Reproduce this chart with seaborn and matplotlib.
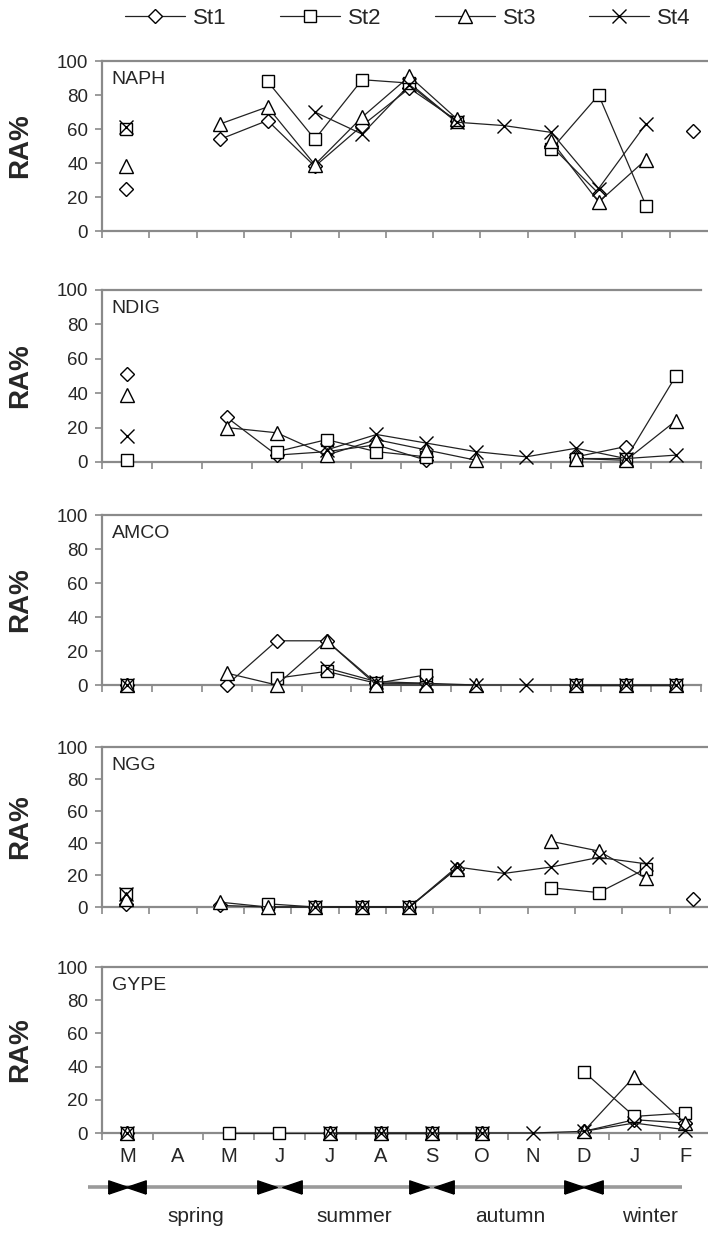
import numpy as np
import pandas as pd
import matplotlib
matplotlib.use('Agg')
import matplotlib.pyplot as plt
import seaborn as sns
from matplotlib.lines import Line2D
from matplotlib.path import Path
from matplotlib.transforms import blended_transform_factory

nan = np.nan

# -------------------------------
# DATA (RA% per station, nan = no sample)
# -------------------------------
months = ['M', 'A', 'M', 'J', 'J', 'A', 'S', 'O', 'N', 'D', 'J', 'F']
stations = ['St1', 'St2', 'St3', 'St4']
seasons = ['spring', 'summer', 'autumn', 'winter']
season_start = [0, 3, 6, 9]          # month index where each season begins
season_label_x = [1.35, 4.47, 7.55, 10.3]

naph_st1 = [25, nan, 54, 65, 38, 62, 84, 65, nan, 50, 22, nan, 59]
naph_st2 = [60, nan, nan, 88, 54, 89, 87, 64, nan, 48, 80, 15, nan]
naph_st3 = [38, nan, 63, 73, 39, 67, 91, 66, nan, 53, 17, 42, nan]
naph_st4 = [61, nan, nan, nan, 70, 57, 86, 64, 62, 58, 25, 63, nan]

ndig_st1 = [51, nan, 26, 4, 6, 10, 1, nan, nan, 3, 9, nan]
ndig_st2 = [1, nan, nan, 6, 13, 6, 3, nan, nan, 2, 2, 50]
ndig_st3 = [39, nan, 20, 17, 4, 13, 7, 1, nan, 2, 1, 24]
ndig_st4 = [15, nan, nan, nan, 7, 16, 11, 6, 3, 8, 2, 4]

amco_st1 = [0, nan, 0, 26, 26, 1, 1, nan, nan, 0, 0, 0]
amco_st2 = [0, nan, nan, 4, 8, 1, 6, nan, nan, 0, 0, 0]
amco_st3 = [0, nan, 7, 0, 26, 0, 0, 0, nan, 0, 0, 0]
amco_st4 = [0, nan, nan, nan, 10, 2, 1, 0, 0, 0, 0, 0]

ngg_st1 = [2, nan, 1, 0, 0, 0, 0, 24, nan, nan, nan, nan, 5]
ngg_st2 = [8, nan, nan, 2, 0, 0, 0, nan, nan, 12, 9, 24, nan]
ngg_st3 = [5, nan, 3, 0, 0, 0, 0, 24, nan, 41, 35, 18, nan]
ngg_st4 = [8, nan, nan, nan, 0, 0, 0, 25, 21, 25, 31, 27, nan]

gype_st1 = [0, nan, nan, nan, 0, 0, 0, 0, nan, 1, 8, 6]
gype_st2 = [0, nan, 0, 0, 0, 0, 0, 0, nan, 37, 10, 12]
gype_st3 = [0, nan, nan, nan, 0, 0, 0, 0, nan, 1, 34, 6]
gype_st4 = [0, nan, nan, nan, 0, 0, 0, 0, 0, 1, 6, 2]

panels = [
    ('NAPH', [naph_st1, naph_st2, naph_st3, naph_st4]),
    ('NDIG', [ndig_st1, ndig_st2, ndig_st3, ndig_st4]),
    ('AMCO', [amco_st1, amco_st2, amco_st3, amco_st4]),
    ('NGG', [ngg_st1, ngg_st2, ngg_st3, ngg_st4]),
    ('GYPE', [gype_st1, gype_st2, gype_st3, gype_st4]),
]

# -------------------------------
# STYLE / LAYOUT
# -------------------------------
sns.set_style('ticks')
plt.rcParams['font.family'] = ['Liberation Sans', 'DejaVu Sans']

W, H = 708, 1233
LEFT = 102
# top (y=100), bottom (y=0), width of one month, all in pixels
frames = [(61, 231, 47.3), (290, 462, 49.9), (515, 685, 49.9),
          (747, 907, 47.3), (967, 1133, 50.7)]

AXC = '#8a8a8a'
LINEC = '#222222'
mstyle = {
    'St1': dict(marker='D', ms=6.9),
    'St2': dict(marker='s', ms=8.8),
    'St3': dict(marker='^', ms=9.6),
    'St4': dict(marker='x', ms=9.4),
}

fig = plt.figure(figsize=(W / 100, H / 100), dpi=100)

for i, ((name, series), (top, bot, step)) in enumerate(zip(panels, frames)):
    n = len(series[0])
    ax = fig.add_axes([LEFT / W, 1 - bot / H, n * step / W, (bot - top) / H])

    for st, vals in zip(stations, series):
        df = pd.DataFrame({'pos': np.arange(n), 'ra': vals}).dropna()
        df['seg'] = (df['pos'].diff() != 1).cumsum()
        sns.lineplot(data=df, x='pos', y='ra', units='seg', estimator=None,
                     ax=ax, color=LINEC, lw=0.9, mfc='white', mec='black',
                     mew=1.0, clip_on=False, legend=False, zorder=3,
                     **mstyle[st])

    ax.set_xlim(-0.5, n - 0.5)
    ax.set_ylim(0, 100)
    ax.set_yticks(range(0, 101, 20))
    ax.set_xticks(np.arange(-0.5, n, 1.0))
    ax.set_xticklabels([])
    ax.tick_params(axis='y', direction='out', length=5, width=1.2, color=AXC,
                   labelsize=13.5, pad=5)
    ax.tick_params(axis='x', which='major', direction='out', length=5,
                   width=1.2, color=AXC)
    for side in ['left', 'top', 'bottom']:
        ax.spines[side].set_color(AXC)
        ax.spines[side].set_linewidth(1.6)
    ax.spines['right'].set_visible(False)
    ax.set_xlabel('')
    ax.set_ylabel('RA%', fontsize=20, fontweight='bold')
    ax.yaxis.set_label_coords((33 - LEFT) / (n * step), 0.5)
    ax.annotate(name, xy=(0, 1), xycoords='axes fraction', xytext=(7, -13),
                textcoords='offset points', ha='left', va='center', fontsize=14)

    if name == 'GYPE':
        ax.set_xticks(np.arange(n), minor=True)
        ax.set_xticklabels(months, minor=True, fontsize=14.5)
        ax.tick_params(axis='x', which='minor', length=0, pad=10)

        # season bar below the month labels
        tr = blended_transform_factory(ax.transData, ax.transAxes)
        ax.plot([-0.78, 10.94], [-0.325, -0.325], transform=tr, color='#9a9a9a',
                lw=2.6, clip_on=False, solid_capstyle='butt')
        right_tri = Path([(-1, -0.68), (1, 0), (-1, 0.68), (-1, -0.68)])
        left_tri = Path([(1, -0.68), (-1, 0), (1, 0.68), (1, -0.68)])
        gaps = [0.18, 0.25, 0.24, 0.19]
        for s, g in zip(season_start, gaps):
            ax.plot([s - g], [-0.325], transform=tr, marker=right_tri, ms=14,
                    color='black', clip_on=False, ls='none')
            ax.plot([s + g], [-0.325], transform=tr, marker=left_tri, ms=14,
                    color='black', clip_on=False, ls='none')
        for lab, x in zip(seasons, season_label_x):
            ax.text(x, -0.506, lab, transform=tr, ha='center', va='center',
                    fontsize=15)

# -------------------------------
# LEGEND
# -------------------------------
handles = [Line2D([], [], color=LINEC, lw=0.9, mfc='white', mec='black',
                  mew=1.0, **mstyle[st]) for st in stations]
fig.legend(handles, stations, ncol=4, loc='center',
           bbox_to_anchor=(408 / W, 1 - 18 / H), frameon=False, fontsize=16,
           handlelength=2.7, handletextpad=0.35, columnspacing=2.4)

fig.savefig('out.png', dpi=100)
